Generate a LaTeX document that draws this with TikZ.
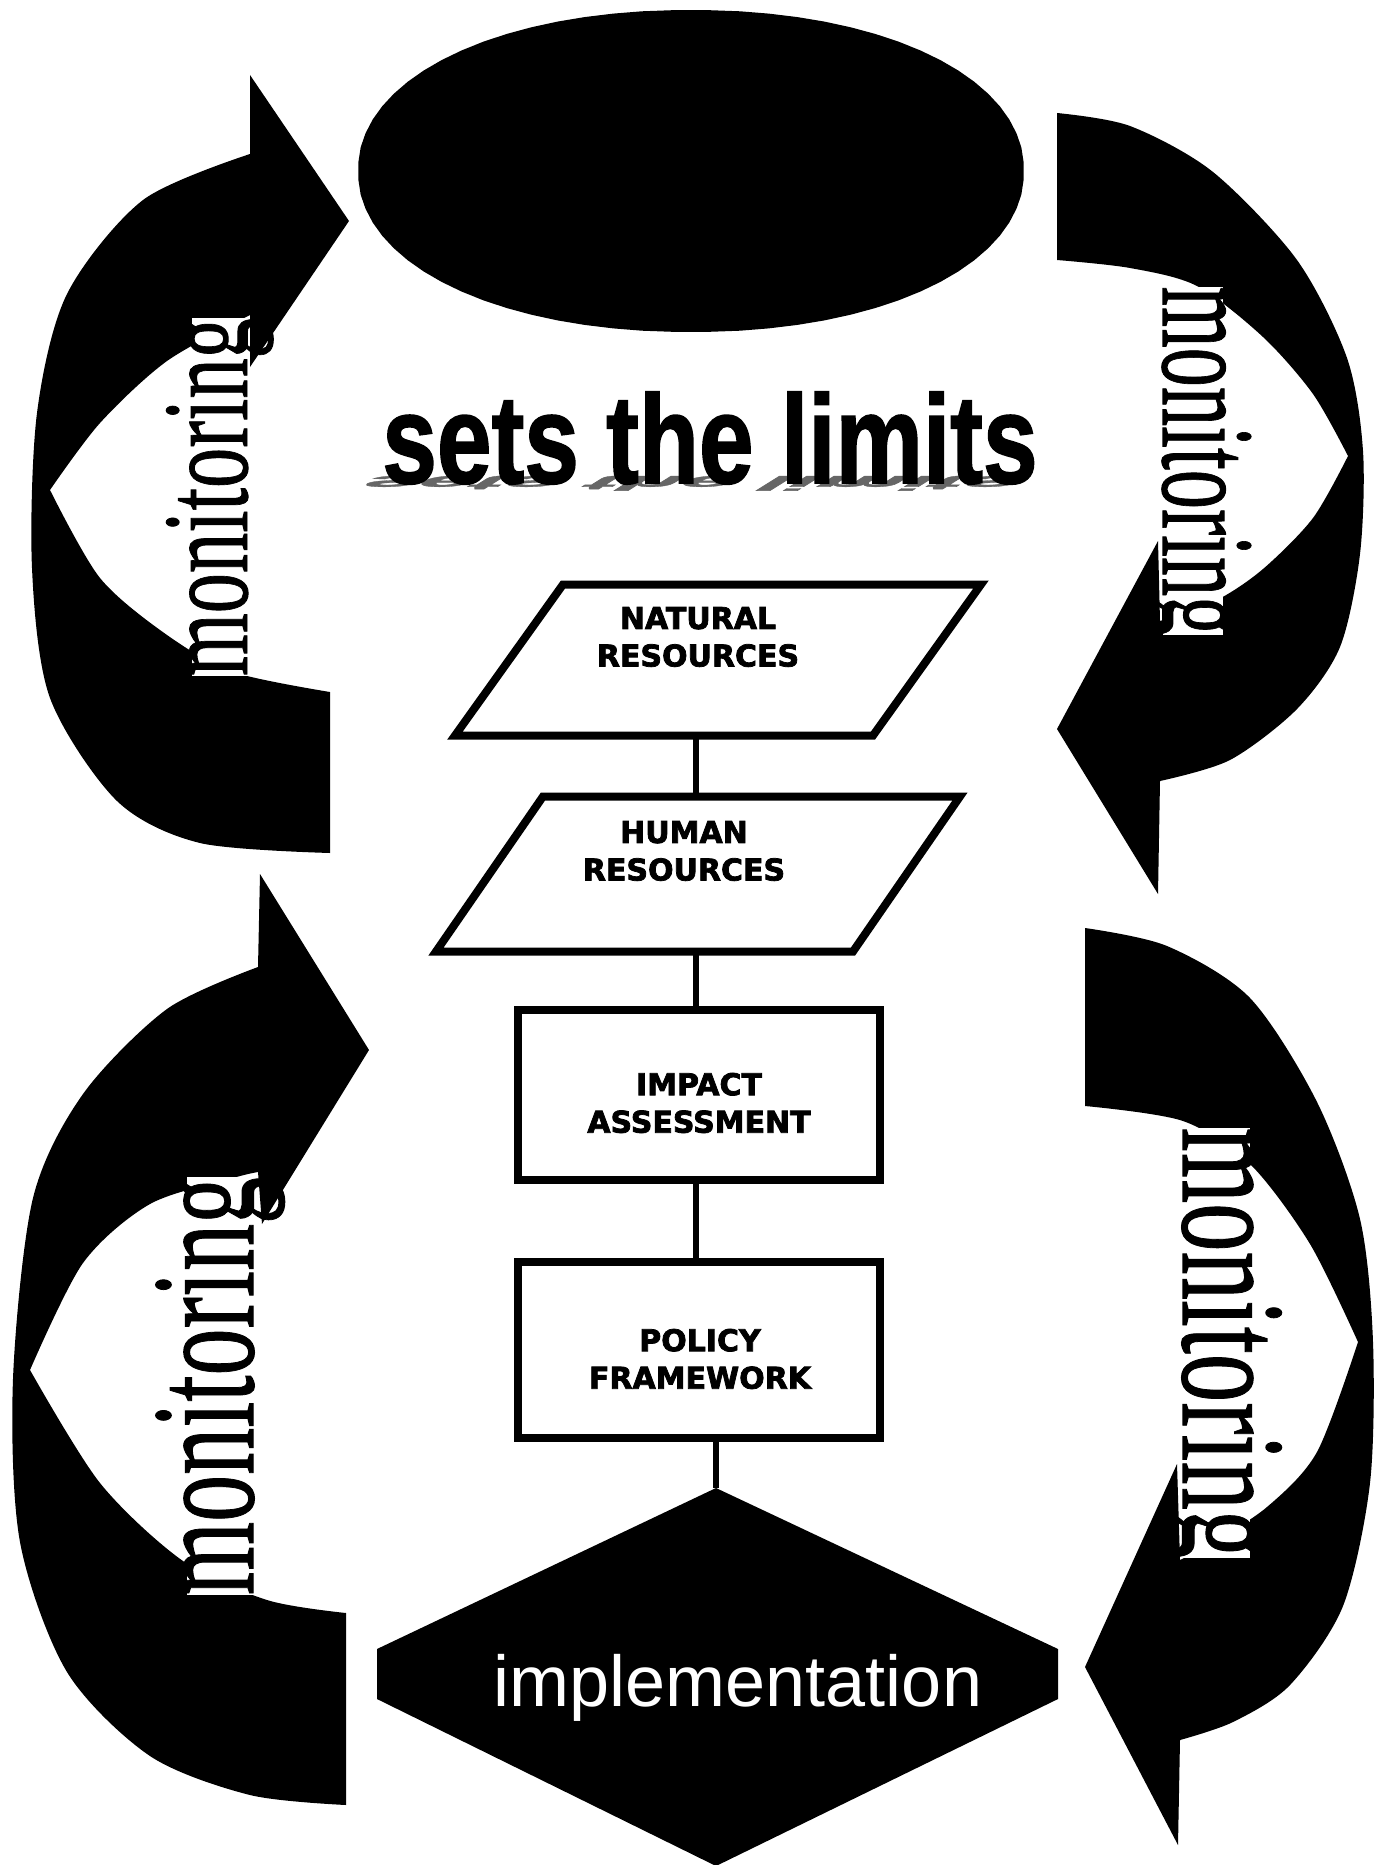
\documentclass[tikz,border=0pt]{standalone}
\usepackage{fontspec}
\newfontfamily\boxfont{DejaVu Sans}[BoldFeatures={FakeBold=2.5}]
\newfontfamily\titlefont{Liberation Sans}[BoldFeatures={FakeBold=1.5}]
\newfontfamily\monfont{Liberation Serif}[FakeBold=0.8]
\begin{document}
\begin{tikzpicture}[x=1pt,y=-1pt,
  boxs/.style={draw, line width=8pt, fill=white, rectangle, inner sep=0pt, outer sep=0pt},
  lbl/.style={font=\boxfont\bfseries\fontsize{30}{37.5}\selectfont, align=center, inner sep=0pt},
  conn/.style={line width=6pt},
  mon/.style={fill=white, inner sep=0pt, outer sep=0pt, text depth=0pt, anchor=south},
  title/.style={font=\titlefont\bfseries\fontsize{126}{126}\selectfont, anchor=base, inner sep=0pt}]
\useasboundingbox (0,0) rectangle (1384,1865);
\fill[white] (0,0) rectangle (1384,1865);

% top oval
\fill plot[domain=2.5:362.5, samples=73, variable=\t]
  ({691+333*sign(cos(\t))*abs(cos(\t))^0.95}, {171+161*sign(sin(\t))*abs(sin(\t))^0.95}) -- cycle;

% curved arrows
\fill plot[smooth] coordinates {(330,853) (200,843) (117,801) (50,698) (32,568) (37,413) (67,294) (143,200) (250,154)}
 -- (250,75) -- (349,221) -- (250,367) -- (250,315)
 -- plot[smooth] coordinates {(250,315) (167,361) (100,423) (50,490)}
 -- plot[smooth] coordinates {(50,490) (100,578) (167,635) (233,672) (330,692)}
 -- cycle;
\fill plot[smooth] coordinates {(1057,113) (1130,126) (1213,172) (1297,260) (1347,358) (1363,451) (1360,554) (1340,647) (1297,709) (1230,760) (1160,781)}
 -- (1158,894) -- (1057,729) -- (1158,541) -- (1160,621)
 -- plot[smooth] coordinates {(1160,621) (1217,600) (1263,569) (1313,518) (1348,456)}
 -- plot[smooth] coordinates {(1348,456) (1313,394) (1263,337) (1197,286) (1130,268) (1057,260)}
 -- cycle;
\fill plot[smooth] coordinates {(346,1805) (250,1795) (150,1756) (67,1672) (20,1542) (13,1379) (33,1198) (83,1094) (167,1009) (258,967)}
 -- (260,874) -- (369,1050) -- (262,1224) -- (258,1172)
 -- plot[smooth] coordinates {(258,1172) (233,1178) (150,1204) (83,1263) (30,1370)}
 -- plot[smooth] coordinates {(30,1370) (100,1483) (183,1561) (267,1600) (346,1613)}
 -- cycle;
\fill plot[smooth] coordinates {(1085,928) (1167,946) (1250,998) (1317,1102) (1360,1219) (1373,1342) (1370,1483) (1343,1606) (1290,1685) (1233,1722) (1180,1740)}
 -- (1178,1845) -- (1085,1667) -- (1177,1464) -- (1180,1560)
 -- plot[smooth] coordinates {(1180,1560) (1210,1544) (1267,1507) (1317,1452) (1358,1342)}
 -- plot[smooth] coordinates {(1358,1342) (1310,1244) (1250,1164) (1183,1121) (1085,1106)}
 -- cycle;

% monitoring labels
\node[mon, rotate=90, text height=55pt, font=\monfont\fontsize{122}{122}\selectfont] (monTL) at (247,497) {\scalebox{0.66}[1]{monitoring}};
\node[mon, rotate=-90, text height=60pt, font=\monfont\fontsize{133}{133}\selectfont] (monTR) at (1163,461) {\scalebox{0.59}[1]{monitoring}};
\node[mon, rotate=90, text height=66pt, font=\monfont\fontsize{147}{147}\selectfont] (monBL) at (253,1386) {\scalebox{0.64}[1]{monitoring}};
\node[mon, rotate=-90, text height=67pt, font=\monfont\fontsize{149}{149}\selectfont] (monBR) at (1183,1343) {\scalebox{0.65}[1]{monitoring}};

% sets the limits, with its shadow
\begin{scope}[shift={(702,476)}, xslant=1.6, yscale=-0.16]
  \node[title, transform shape, text=black!60] (limitsShadow) at (0,0) {\scalebox{0.78}[1]{sets the limits}};
\end{scope}
\node[title] (limits) at (710,483) {\scalebox{0.78}[1]{sets the limits}};

% flow chart
\coordinate (spine) at (696,0);
\coordinate (hextop) at (716,1488);
\begin{scope}[shift={(718,660)}, xslant=0.715]
  \node[boxs, transform shape, minimum width=418pt, minimum height=151pt] (nat) at (0,0) {};
\end{scope}
\begin{scope}[shift={(698,874)}, xslant=0.69]
  \node[boxs, transform shape, minimum width=417pt, minimum height=155pt] (hum) at (0,0) {};
\end{scope}
\node[boxs, minimum width=362pt, minimum height=170pt] (imp) at (699,1095) {};
\node[boxs, minimum width=362pt, minimum height=176pt] (pol) at (699,1350) {};
\node[lbl] (natT) at (698,637) {NATURAL\\RESOURCES};
\node[lbl] (humT) at (684,851) {HUMAN\\RESOURCES};
\node[lbl] (impT) at (699,1103) {IMPACT\\ASSESSMENT};
\node[lbl] (polT) at (700,1359) {POLICY\\FRAMEWORK};

\draw[conn] (nat.south -| spine) -- (hum.north -| spine);
\draw[conn] (hum.south -| spine) -- (imp.north -| spine);
\draw[conn] (imp.south -| spine) -- (pol.north -| spine);
\draw[conn] (pol.south -| hextop) -- (hextop);

% implementation hexagon
\fill (hextop) -- (1058,1649) -- (1058,1699) -- (716,1866) -- (377,1699) -- (377,1649) -- cycle;
\node[anchor=base, inner sep=0pt, text=white, font=\titlefont\fontsize{72}{72}\selectfont] (implT) at (738,1706) {implementation};
\end{tikzpicture}
\end{document}
